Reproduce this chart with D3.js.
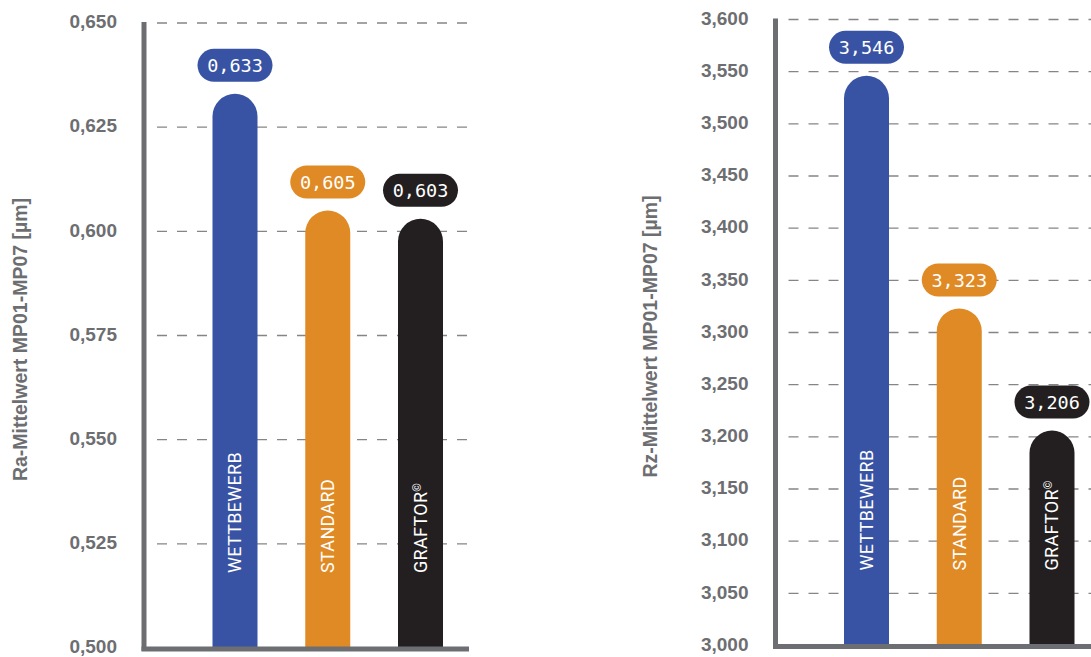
<!DOCTYPE html>
<html>
<head>
<meta charset="utf-8">
<script src="https://cdn.jsdelivr.net/npm/d3@7"></script>
<style>
  body { margin: 0; background: #fff; }
  svg { display: block; }
</style>
</head>
<body>
<div id="chart"></div>
<script>
// data
const categories = ["WETTBEWERB", "STANDARD", "GRAFTOR"];
const raValues = [0.633, 0.605, 0.603];
const rzValues = [3.546, 3.323, 3.206];
const raTicks = [0.500, 0.525, 0.550, 0.575, 0.600, 0.625, 0.650];
const rzTicks = [3.000, 3.050, 3.100, 3.150, 3.200, 3.250, 3.300, 3.350, 3.400, 3.450, 3.500, 3.550, 3.600];
const barColors = ["#3953a4", "#e08a25", "#231f20"];

const width = 1091, height = 657;
const axisColor = "#6d6e71";
const barW = 45;

const de = d3.formatLocale({ decimal: ",", thousands: ".", grouping: [3], currency: ["", "€"] });
const fmt = de.format(".3f");

const svg = d3.select("#chart").append("svg")
  .attr("width", width)
  .attr("height", height);

// draw one panel
function drawPanel(opts) {
  const { left, top, bottom, plotW, ticks, values, title, titleX } = opts;
  const g = svg.append("g");

  const y = d3.scaleLinear()
    .domain(d3.extent(ticks))
    .range([bottom, top]);

  const x = d3.scalePoint()
    .domain(categories)
    .range([left + 91, left + 276.5]);

  // dashed grid
  g.selectAll(".grid")
    .data(ticks.slice(1))
    .join("line")
    .attr("x1", left + 13)
    .attr("x2", left + plotW)
    .attr("y1", d => y(d))
    .attr("y2", d => y(d))
    .attr("stroke", "#858585")
    .attr("stroke-width", 1.4)
    .attr("stroke-dasharray", "10,10");

  // tick labels
  g.selectAll(".tick-label")
    .data(ticks)
    .join("text")
    .attr("x", left - 27)
    .attr("y", d => y(d))
    .attr("dy", "0.28em")
    .attr("text-anchor", "end")
    .attr("font-family", "'Liberation Sans', Arial, sans-serif")
    .attr("font-weight", "bold")
    .attr("font-size", 19)
    .attr("fill", axisColor)
    .text(d => fmt(d));

  // axis title
  g.append("text")
    .attr("transform", `translate(${titleX},${(top + bottom) / 2 + 4}) rotate(-90)`)
    .attr("text-anchor", "middle")
    .attr("font-family", "'Liberation Sans', Arial, sans-serif")
    .attr("font-weight", "bold")
    .attr("font-size", 19.5)
    .attr("fill", axisColor)
    .text(title);

  // bars with round caps
  const r = barW / 2;
  g.selectAll(".bar")
    .data(values)
    .join("path")
    .attr("fill", (d, i) => barColors[i])
    .attr("d", (d, i) => {
      const x0 = x(categories[i]) - r;
      const yt = y(d);
      return `M${x0},${bottom} V${yt + r} A${r},${r} 0 0 1 ${x0 + barW},${yt + r} V${bottom} Z`;
    });

  // category labels inside bars
  const lab = g.selectAll(".cat")
    .data(categories)
    .join("text")
    .attr("transform", d => `translate(${x(d)},${bottom - 75}) rotate(-90)`)
    .attr("dy", "0.36em")
    .attr("font-family", "Roboto, 'Liberation Sans', sans-serif")
    .attr("font-size", 18)
    .attr("letter-spacing", 0.3)
    .attr("fill", "#fff");
  lab.append("tspan").text(d => d);
  lab.filter(d => d === "GRAFTOR")
    .append("tspan")
    .attr("font-size", 11)
    .attr("dy", "-0.55em")
    .text("©");

  // value pills
  const pill = g.selectAll(".pill")
    .data(values)
    .join("g")
    .attr("transform", (d, i) => `translate(${x(categories[i])},${y(d) - 28.5})`);
  pill.append("rect")
    .attr("x", -37.5)
    .attr("y", -16.5)
    .attr("width", 75)
    .attr("height", 33)
    .attr("rx", 16.5)
    .attr("fill", (d, i) => barColors[i]);
  pill.append("text")
    .attr("text-anchor", "middle")
    .attr("dy", "0.36em")
    .attr("font-family", "'DejaVu Sans Mono', monospace")
    .attr("font-size", 18.5)
    .attr("fill", "#fff")
    .text(d => fmt(d));

  // axis lines
  g.append("line")
    .attr("x1", left).attr("x2", left)
    .attr("y1", top - 1).attr("y2", bottom + 3)
    .attr("stroke", axisColor).attr("stroke-width", 5);
  g.append("line")
    .attr("x1", left - 2.5).attr("x2", left + plotW)
    .attr("y1", bottom + 1).attr("y2", bottom + 1)
    .attr("stroke", axisColor).attr("stroke-width", 5);
}

drawPanel({
  left: 144, top: 23, bottom: 648, plotW: 325,
  ticks: raTicks, values: raValues,
  title: "Ra-Mittelwert MP01-MP07 [µm]", titleX: 26.5
});

drawPanel({
  left: 775.5, top: 19.5, bottom: 645.5, plotW: 330,
  ticks: rzTicks, values: rzValues,
  title: "Rz-Mittelwert MP01-MP07 [µm]", titleX: 656.5
});
</script>
</body>
</html>
